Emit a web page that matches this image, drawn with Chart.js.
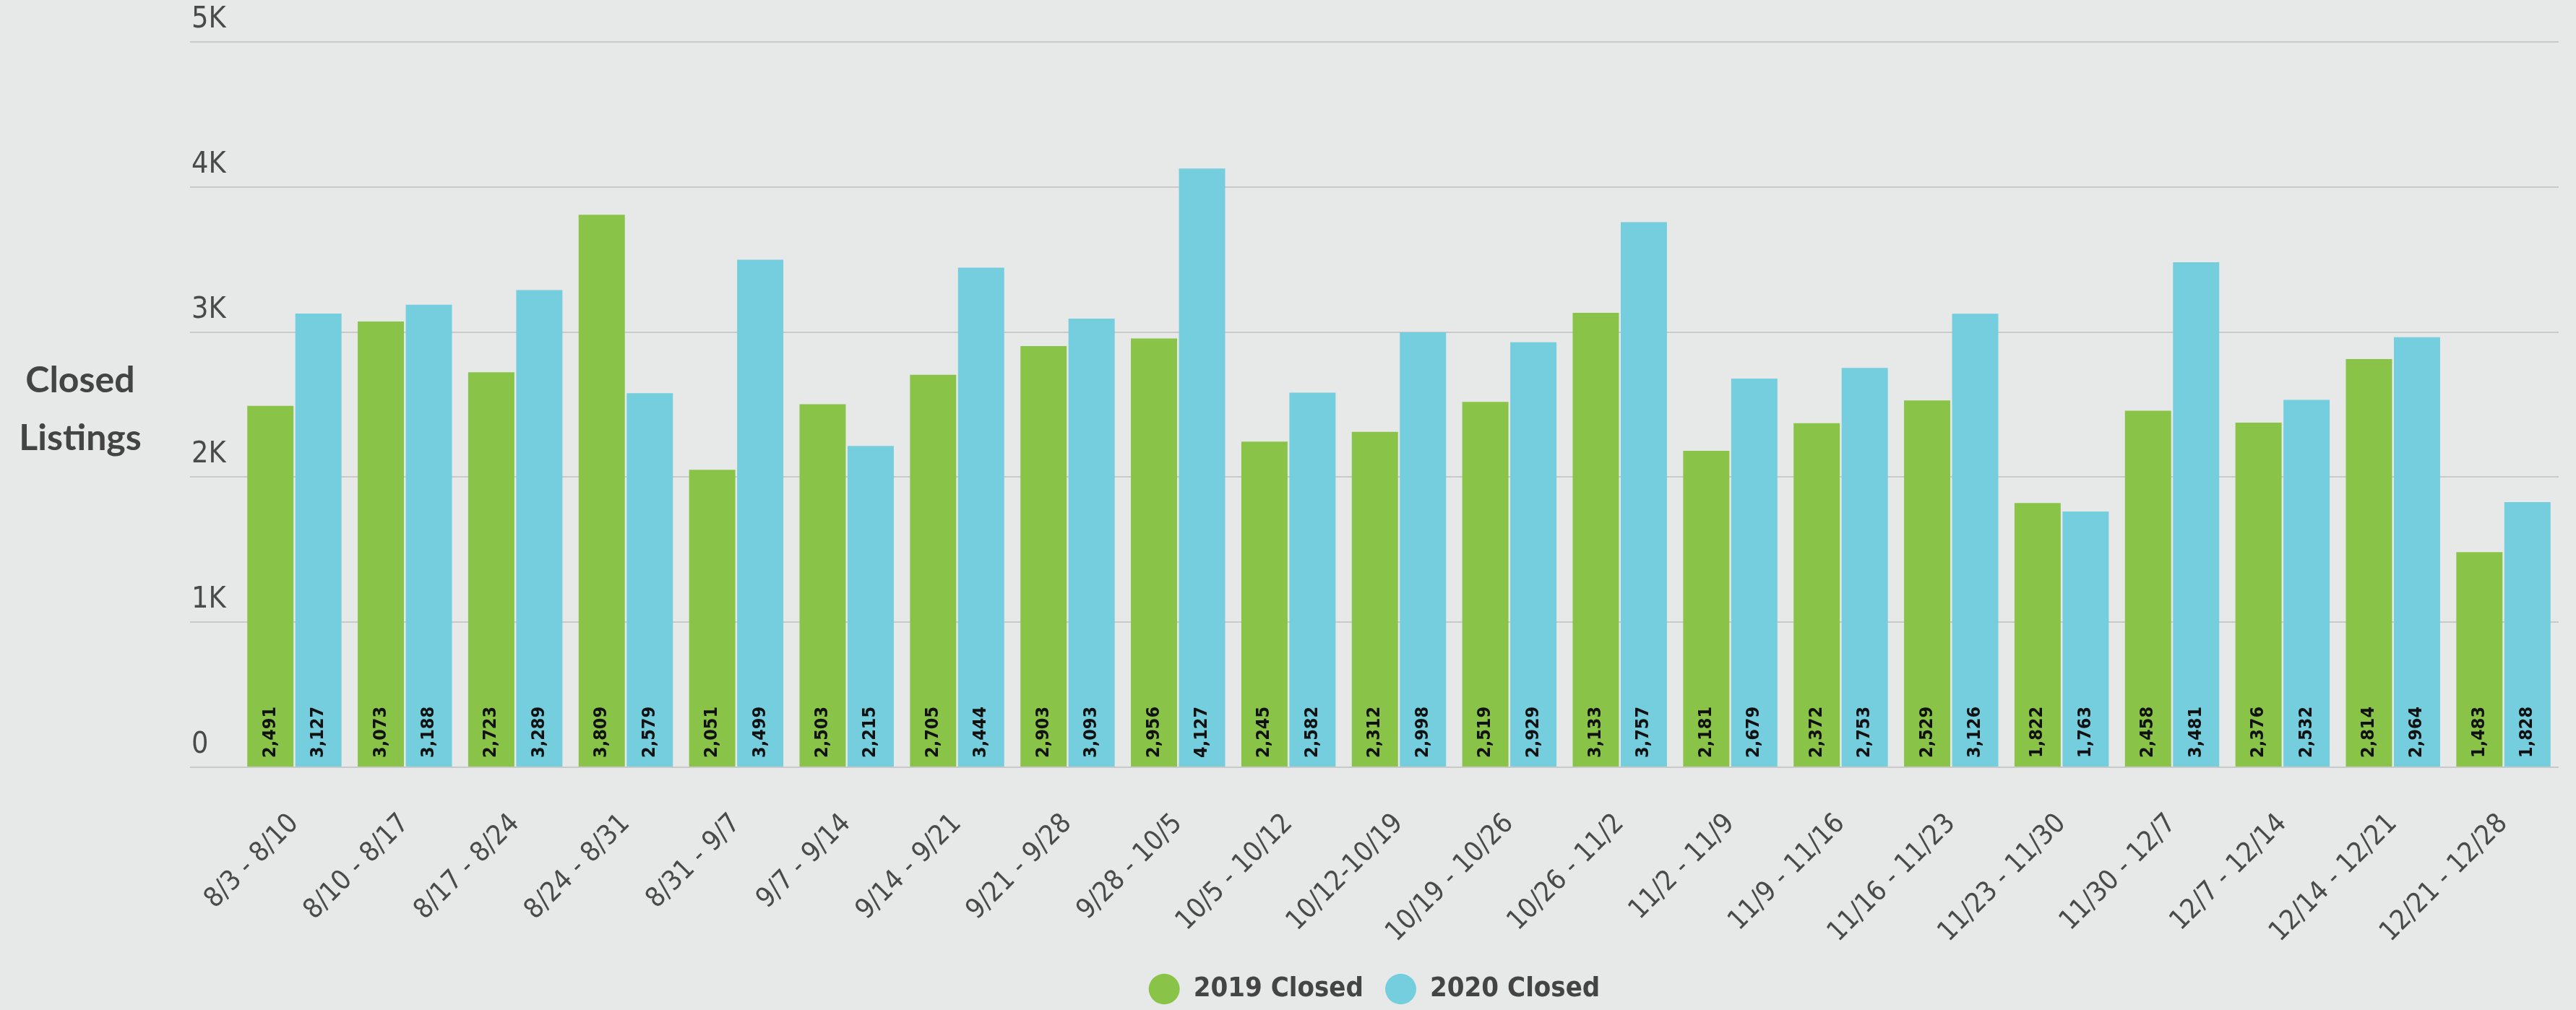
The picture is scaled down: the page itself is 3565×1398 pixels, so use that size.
<!DOCTYPE html>
<html>
<head>
<meta charset="utf-8">
<title>Closed Listings</title>
<script src="https://cdn.jsdelivr.net/npm/chart.js@4.4.0/dist/chart.umd.min.js"></script>
<style>
  html, body { margin: 0; padding: 0; background: #e7e9e8; }
  #wrap { width: 3565px; height: 1398px; }
</style>
</head>
<body>
<div id="wrap"><canvas id="closedChart" width="3565" height="1398"></canvas></div>
<script>
// Weekly closed listings, 2019 vs 2020
const weeks = [
  "8/3 - 8/10", "8/10 - 8/17", "8/17 - 8/24", "8/24 - 8/31", "8/31 - 9/7",
  "9/7 - 9/14", "9/14 - 9/21", "9/21 - 9/28", "9/28 - 10/5", "10/5 - 10/12",
  "10/12-10/19", "10/19 - 10/26", "10/26 - 11/2", "11/2 - 11/9", "11/9 - 11/16",
  "11/16 - 11/23", "11/23 - 11/30", "11/30 - 12/7", "12/7 - 12/14", "12/14 - 12/21",
  "12/21 - 12/28",
]
const closed2019 = [2491, 3073, 2723, 3809, 2051, 2503, 2705, 2903, 2956, 2245, 2312, 2519, 3133, 2181, 2372, 2529, 1822, 2458, 2376, 2814, 1483]
const closed2020 = [3127, 3188, 3289, 2579, 3499, 2215, 3444, 3093, 4127, 2582, 2998, 2929, 3757, 2679, 2753, 3126, 1763, 3481, 2532, 2964, 1828]
const yTickLabels = ["0", "1K", "2K", "3K", "4K", "5K"]

const NARROW = "'Liberation Sans Narrow', 'DejaVu Sans Condensed', sans-serif"
const GREEN = "#89c449"
const CYAN = "#75cedd"
const GRID = "#c8c9c8"
const TEXT = "#4a4a4a"

// value labels written upward at the foot of every bar
const barValueLabels = {
  id: "barValueLabels",
  afterDatasetsDraw(chart) {
    const ctx = chart.ctx
    ctx.save()
    ctx.font = `bold 25px ${NARROW}`
    ctx.fillStyle = "#111"
    ctx.textAlign = "left"
    ctx.textBaseline = "middle"
    chart.data.datasets.forEach((ds, i) => {
      chart.getDatasetMeta(i).data.forEach((bar, j) => {
        ctx.save()
        ctx.translate(bar.x, bar.base - 12)
        ctx.rotate(-Math.PI / 2)
        ctx.fillText(ds.data[j].toLocaleString("en-US"), 0, 0)
        ctx.restore()
      })
    })
    ctx.restore()
  },
}

// horizontal two-line axis title on the left
const sideTitle = {
  id: "sideTitle",
  afterDraw(chart) {
    const ctx = chart.ctx
    ctx.save()
    ctx.font = "bold 50px Lato, 'Open Sans', sans-serif"
    ctx.fillStyle = "#444"
    ctx.textAlign = "center"
    ctx.textBaseline = "alphabetic"
    ctx.fillText("Closed", 111, 543)
    ctx.fillText("Listings", 111, 623)
    ctx.restore()
  },
}

new Chart(document.getElementById("closedChart"), {
  type: "bar",
  data: {
    labels: weeks,
    datasets: [
      {
        label: "2019 Closed",
        data: closed2019,
        backgroundColor: GREEN,
        borderWidth: 0,
        barPercentage: 0.962,
        categoryPercentage: 0.87,
      },
      {
        label: "2020 Closed",
        data: closed2020,
        backgroundColor: CYAN,
        borderWidth: 0,
        barPercentage: 0.962,
        categoryPercentage: 0.87,
      },
    ],
  },
  options: {
    responsive: false,
    animation: false,
    devicePixelRatio: 1,
    layout: {
      padding: { top: 58, left: 263, right: 24, bottom: 0 },
    },
    plugins: {
      tooltip: { enabled: false },
      legend: {
        position: "bottom",
        maxHeight: 80,
        labels: {
          usePointStyle: true,
          pointStyle: "circle",
          boxHeight: 30,
          pointStyleWidth: 43,
          padding: 30,
          color: "#444",
          font: { family: NARROW, size: 38, weight: "bold" },
        },
      },
    },
    scales: {
      x: {
        grid: { display: false, drawTicks: false },
        border: { display: false },
        ticks: {
          autoSkip: false,
          minRotation: 45,
          maxRotation: 45,
          padding: 56,
          color: TEXT,
          font: { family: NARROW, size: 38 },
        },
        afterFit: (scale) => {
          scale.height = 258
          scale.paddingLeft = 0
          scale.paddingRight = 0
        },
      },
      y: {
        min: 0,
        max: 5000,
        ticks: {
          stepSize: 1000,
          mirror: true,
          padding: -66,
          color: TEXT,
          font: { family: NARROW, size: 41, lineHeight: 1.5 },
          // second empty line lifts the label above its grid line
          callback: (value) => [yTickLabels[value / 1000], ""],
        },
        grid: {
          color: GRID,
          lineWidth: 2,
          drawTicks: true,
          tickLength: 68,
          tickColor: GRID,
          tickWidth: 2,
        },
        border: { display: false },
        afterFit: (scale) => {
          scale.width = 68
          scale.paddingTop = 0
          scale.paddingBottom = 0
        },
      },
    },
  },
  plugins: [barValueLabels, sideTitle],
})
</script>
</body>
</html>
